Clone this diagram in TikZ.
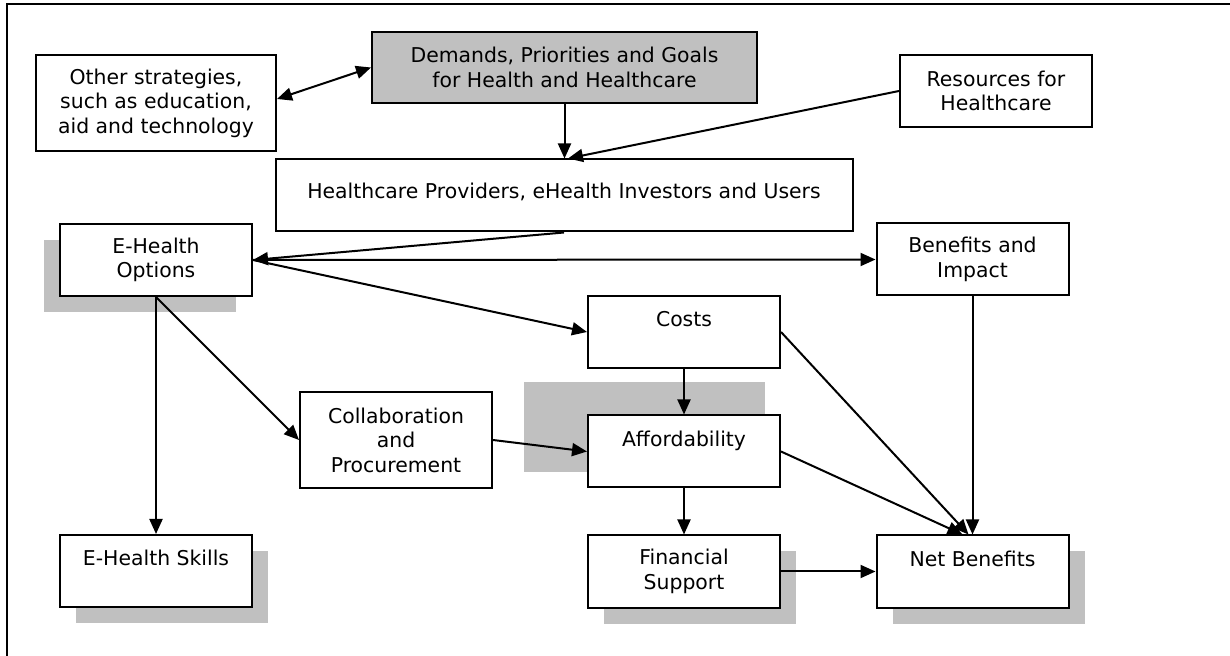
\documentclass[tikz,border=0pt]{standalone}
\usepackage{fontspec}
\setmainfont{DejaVu Sans}
\usetikzlibrary{arrows.meta,shadows,backgrounds}
\definecolor{shadegray}{RGB}{192,192,192}

\begin{document}
\begin{tikzpicture}[x=0.5pt,y=-0.5pt,font=\fontsize{10.2pt}{12.25pt}\selectfont]
\tikzset{
  box/.style={draw, line width=1pt, fill=white, align=center,
    minimum width=96pt, minimum height=36pt, inner sep=2pt},
  oneline/.style={inner ysep=0pt, text height=15.5pt, text depth=20.5pt},
  keybox/.style={box, fill=shadegray},
  shade br/.style={drop shadow={shadow xshift=8pt, shadow yshift=-8pt,
    fill=shadegray, opacity=1}},
  shade bl/.style={drop shadow={shadow xshift=-8pt, shadow yshift=-8pt,
    fill=shadegray, opacity=1}},
  link/.style={line width=1pt, -{Triangle[length=7.5pt,width=6.5pt]}},
  twoway/.style={link, {Triangle[length=7.5pt,width=6.5pt]}-{Triangle[length=7.5pt,width=6.5pt]}}
}
\useasboundingbox (0,0) rectangle (1230,656);
\clip (0,0) rectangle (1230,656);
\draw[line width=1.3pt] (7,4) rectangle (1260,690);

\node[box, minimum width=120pt, minimum height=48pt] (other) at (156,103)
  {Other strategies,\\such as education,\\aid and technology};
\node[keybox, minimum width=192.5pt, minimum height=35.5pt] (demands) at (564.5,67.5)
  {Demands, Priorities and Goals\\for Health and Healthcare};
\node[box] (resources) at (996,91) {Resources for\\Healthcare};
\node[box, oneline, minimum width=288.5pt, text depth=12pt] (providers) at (564,195.5)
  {Healthcare Providers, eHealth Investors and Users};

\node[box, shade bl] (options) at (156,260) {E-Health\\Options};
\node[box] (benefits) at (972.5,259.5) {Benefits and\\Impact};
\node[box, oneline] (costs) at (684,332) {Costs};
\node[box, minimum height=48pt] (collab) at (396,440) {Collaboration\\and\\Procurement};
\node[box, oneline] (afford) at (684,451.5) {Affordability};
\node[box, oneline, shade br] (skills) at (156,571) {E-Health Skills};
\node[box, shade br] (finsupport) at (684,571.5) {Financial\\Support};
\node[box, oneline, shade br] (netben) at (972.5,571.5) {Net Benefits};

\begin{scope}[on background layer]
  \fill[shadegray] (524,382) rectangle (765,472);
\end{scope}

\draw[twoway] ([yshift=2pt]other.east) -- (demands.west);
\draw[link] (demands.south) -- (demands.south |- providers.north);
\draw[link] (resources.west) -- ([xshift=2pt]providers.north);
\draw[link] (providers.south) -- (options.east);
\draw[link] (options.east) -- (benefits.west);
\draw[link] (options.east) -- (costs.west);
\draw[link] (options.south) -- (skills.north);
\draw[link] (options.south) -- (collab.west);
\draw[link] (collab.east) -- (afford.west);
\draw[link] (costs.south) -- (afford.north);
\draw[link] (afford.south) -- (finsupport.north);
\draw[link] (finsupport.east) -- (netben.west);
\draw[link] (costs.east) -- ([xshift=-2pt]netben.north);
\draw[link] (afford.east) -- ([xshift=-5pt]netben.north);
\draw[link] (benefits.south) -- (netben.north);
\end{tikzpicture}
\end{document}
